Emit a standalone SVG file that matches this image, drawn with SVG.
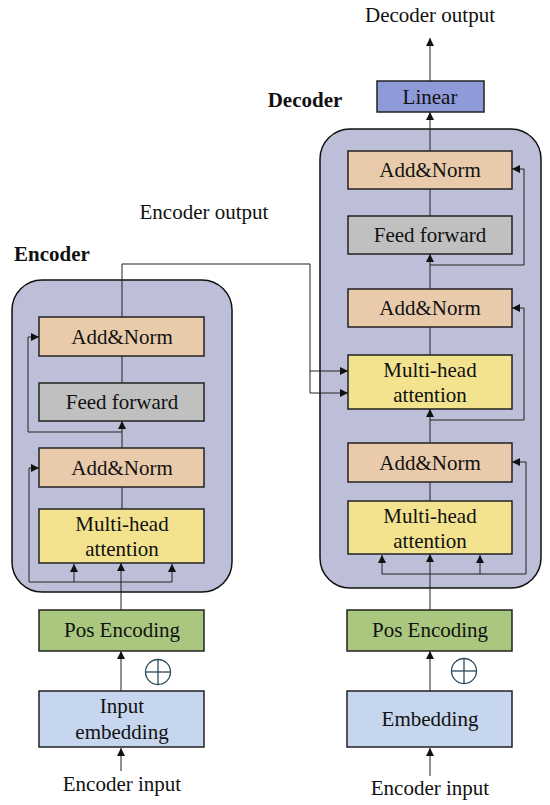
<svg xmlns="http://www.w3.org/2000/svg" width="550" height="805" viewBox="0 0 550 805">
<style>
text{font-family:"Liberation Serif","Times New Roman",serif;font-size:21px;fill:#111;text-anchor:middle}
.b{font-weight:bold}
.box{stroke:#222;stroke-width:1.5}
.cont{fill:#bcbfd7;stroke:#111;stroke-width:1.5}
.an{fill:#e9cbab}.ff{fill:#c0c0c0}.mh{fill:#f3e38f}.pe{fill:#a9c77e}.em{fill:#c6d6ee}.li{fill:#8f9ad8}
.ln{fill:none;stroke:#222;stroke-width:1}
</style>
<defs>
<marker id="ah" viewBox="0 0 10 10" refX="10" refY="5" markerWidth="8" markerHeight="8" markerUnits="userSpaceOnUse" orient="auto"><path d="M0,0L10,5L0,10z" fill="#111"/></marker>
</defs>
<rect class="cont" x="12" y="280" width="220" height="312" rx="30"/>
<rect class="cont" x="320" y="129" width="221" height="459" rx="30"/>
<text class="b" x="52" y="261">Encoder</text>
<text class="b" x="305" y="107">Decoder</text>
<text x="204" y="219">Encoder output</text>
<text x="430" y="22">Decoder output</text>
<g id="connectors">
<line class="ln" x1="121" y1="771" x2="121" y2="748" marker-end="url(#ah)"/>
<line class="ln" x1="121" y1="691" x2="121" y2="651" marker-end="url(#ah)"/>
<line class="ln" x1="121" y1="610" x2="121" y2="563" marker-end="url(#ah)"/>
<polyline class="ln" points="122,582 74,582 74,564" marker-end="url(#ah)"/>
<polyline class="ln" points="122,582 172,582 172,564" marker-end="url(#ah)"/>
<polyline class="ln" points="74,582 29,582 29,468 39,468" marker-end="url(#ah)"/>
<line class="ln" x1="122" y1="509" x2="122" y2="487"/>
<line class="ln" x1="122" y1="448" x2="122" y2="421" marker-end="url(#ah)"/>
<polyline class="ln" points="122,432 28,432 28,337 39,337" marker-end="url(#ah)"/>
<line class="ln" x1="122" y1="383" x2="122" y2="356"/>
<polyline class="ln" points="122,317 122,264 310,264 310,393 348,393" marker-end="url(#ah)"/>
<line class="ln" x1="310" y1="371" x2="348" y2="371" marker-end="url(#ah)"/>
<line class="ln" x1="430" y1="776" x2="430" y2="748" marker-end="url(#ah)"/>
<line class="ln" x1="430" y1="691" x2="430" y2="651" marker-end="url(#ah)"/>
<line class="ln" x1="430" y1="610" x2="430" y2="554" marker-end="url(#ah)"/>
<polyline class="ln" points="430,574 382,574 382,555" marker-end="url(#ah)"/>
<polyline class="ln" points="430,574 480,574 480,555" marker-end="url(#ah)"/>
<polyline class="ln" points="480,574 526,574 526,462 512,462" marker-end="url(#ah)"/>
<line class="ln" x1="430" y1="501" x2="430" y2="482"/>
<line class="ln" x1="430" y1="443" x2="430" y2="409" marker-end="url(#ah)"/>
<polyline class="ln" points="430,420 524,420 524,308 512,308" marker-end="url(#ah)"/>
<line class="ln" x1="430" y1="355" x2="430" y2="327"/>
<line class="ln" x1="430" y1="289" x2="430" y2="254" marker-end="url(#ah)"/>
<polyline class="ln" points="430,265 524,265 524,169 512,169" marker-end="url(#ah)"/>
<line class="ln" x1="430" y1="216" x2="430" y2="189"/>
<line class="ln" x1="430" y1="151" x2="430" y2="112" marker-end="url(#ah)"/>
<line class="ln" x1="430" y1="81" x2="430" y2="38" marker-end="url(#ah)"/>
</g>
<g id="enc-addnorm2"><rect class="box an" x="39" y="317" width="165" height="39"/><text x="122" y="344">Add&amp;Norm</text></g>
<g id="enc-ff"><rect class="box ff" x="39" y="383" width="165" height="38"/><text x="122" y="409">Feed forward</text></g>
<g id="enc-addnorm1"><rect class="box an" x="39" y="448" width="165" height="39"/><text x="122" y="475">Add&amp;Norm</text></g>
<g id="enc-mha"><rect class="box mh" x="39" y="509" width="165" height="54"/><text x="122" y="531">Multi-head</text><text x="122" y="556">attention</text></g>
<g id="enc-pos"><rect class="box pe" x="39" y="610" width="165" height="41"/><text x="122" y="637">Pos Encoding</text></g>
<g id="enc-plus"><circle cx="158" cy="672" r="12.5" fill="none" stroke="#2b4a5a" stroke-width="1.3"/><line x1="145.5" y1="672" x2="170.5" y2="672" stroke="#2b4a5a" stroke-width="1.3"/><line x1="158" y1="659.5" x2="158" y2="684.5" stroke="#2b4a5a" stroke-width="1.3"/></g>
<g id="enc-emb"><rect class="box em" x="39" y="691" width="165" height="56"/><text x="122" y="713">Input</text><text x="122" y="739">embedding</text></g>
<g id="enc-input"><text x="122" y="791">Encoder input</text></g>
<g id="dec-linear"><rect class="box li" x="377" y="81" width="107" height="31"/><text x="430" y="104">Linear</text></g>
<g id="dec-addnorm3"><rect class="box an" x="348" y="151" width="164" height="38"/><text x="430" y="177">Add&amp;Norm</text></g>
<g id="dec-ff"><rect class="box ff" x="348" y="216" width="164" height="38"/><text x="430" y="242">Feed forward</text></g>
<g id="dec-addnorm2"><rect class="box an" x="348" y="289" width="164" height="38"/><text x="430" y="315">Add&amp;Norm</text></g>
<g id="dec-mha2"><rect class="box mh" x="348" y="355" width="164" height="54"/><text x="430" y="377">Multi-head</text><text x="430" y="402">attention</text></g>
<g id="dec-addnorm1"><rect class="box an" x="348" y="443" width="164" height="39"/><text x="430" y="470">Add&amp;Norm</text></g>
<g id="dec-mha1"><rect class="box mh" x="348" y="501" width="164" height="53"/><text x="430" y="523">Multi-head</text><text x="430" y="548">attention</text></g>
<g id="dec-pos"><rect class="box pe" x="347" y="610" width="165" height="41"/><text x="430" y="637">Pos Encoding</text></g>
<g id="dec-plus"><circle cx="464" cy="671" r="12.5" fill="none" stroke="#2b4a5a" stroke-width="1.3"/><line x1="451.5" y1="671" x2="476.5" y2="671" stroke="#2b4a5a" stroke-width="1.3"/><line x1="464" y1="658.5" x2="464" y2="683.5" stroke="#2b4a5a" stroke-width="1.3"/></g>
<g id="dec-emb"><rect class="box em" x="347" y="691" width="165" height="56"/><text x="430" y="726">Embedding</text></g>
<g id="dec-input"><text x="430" y="795">Encoder input</text></g>
</svg>
